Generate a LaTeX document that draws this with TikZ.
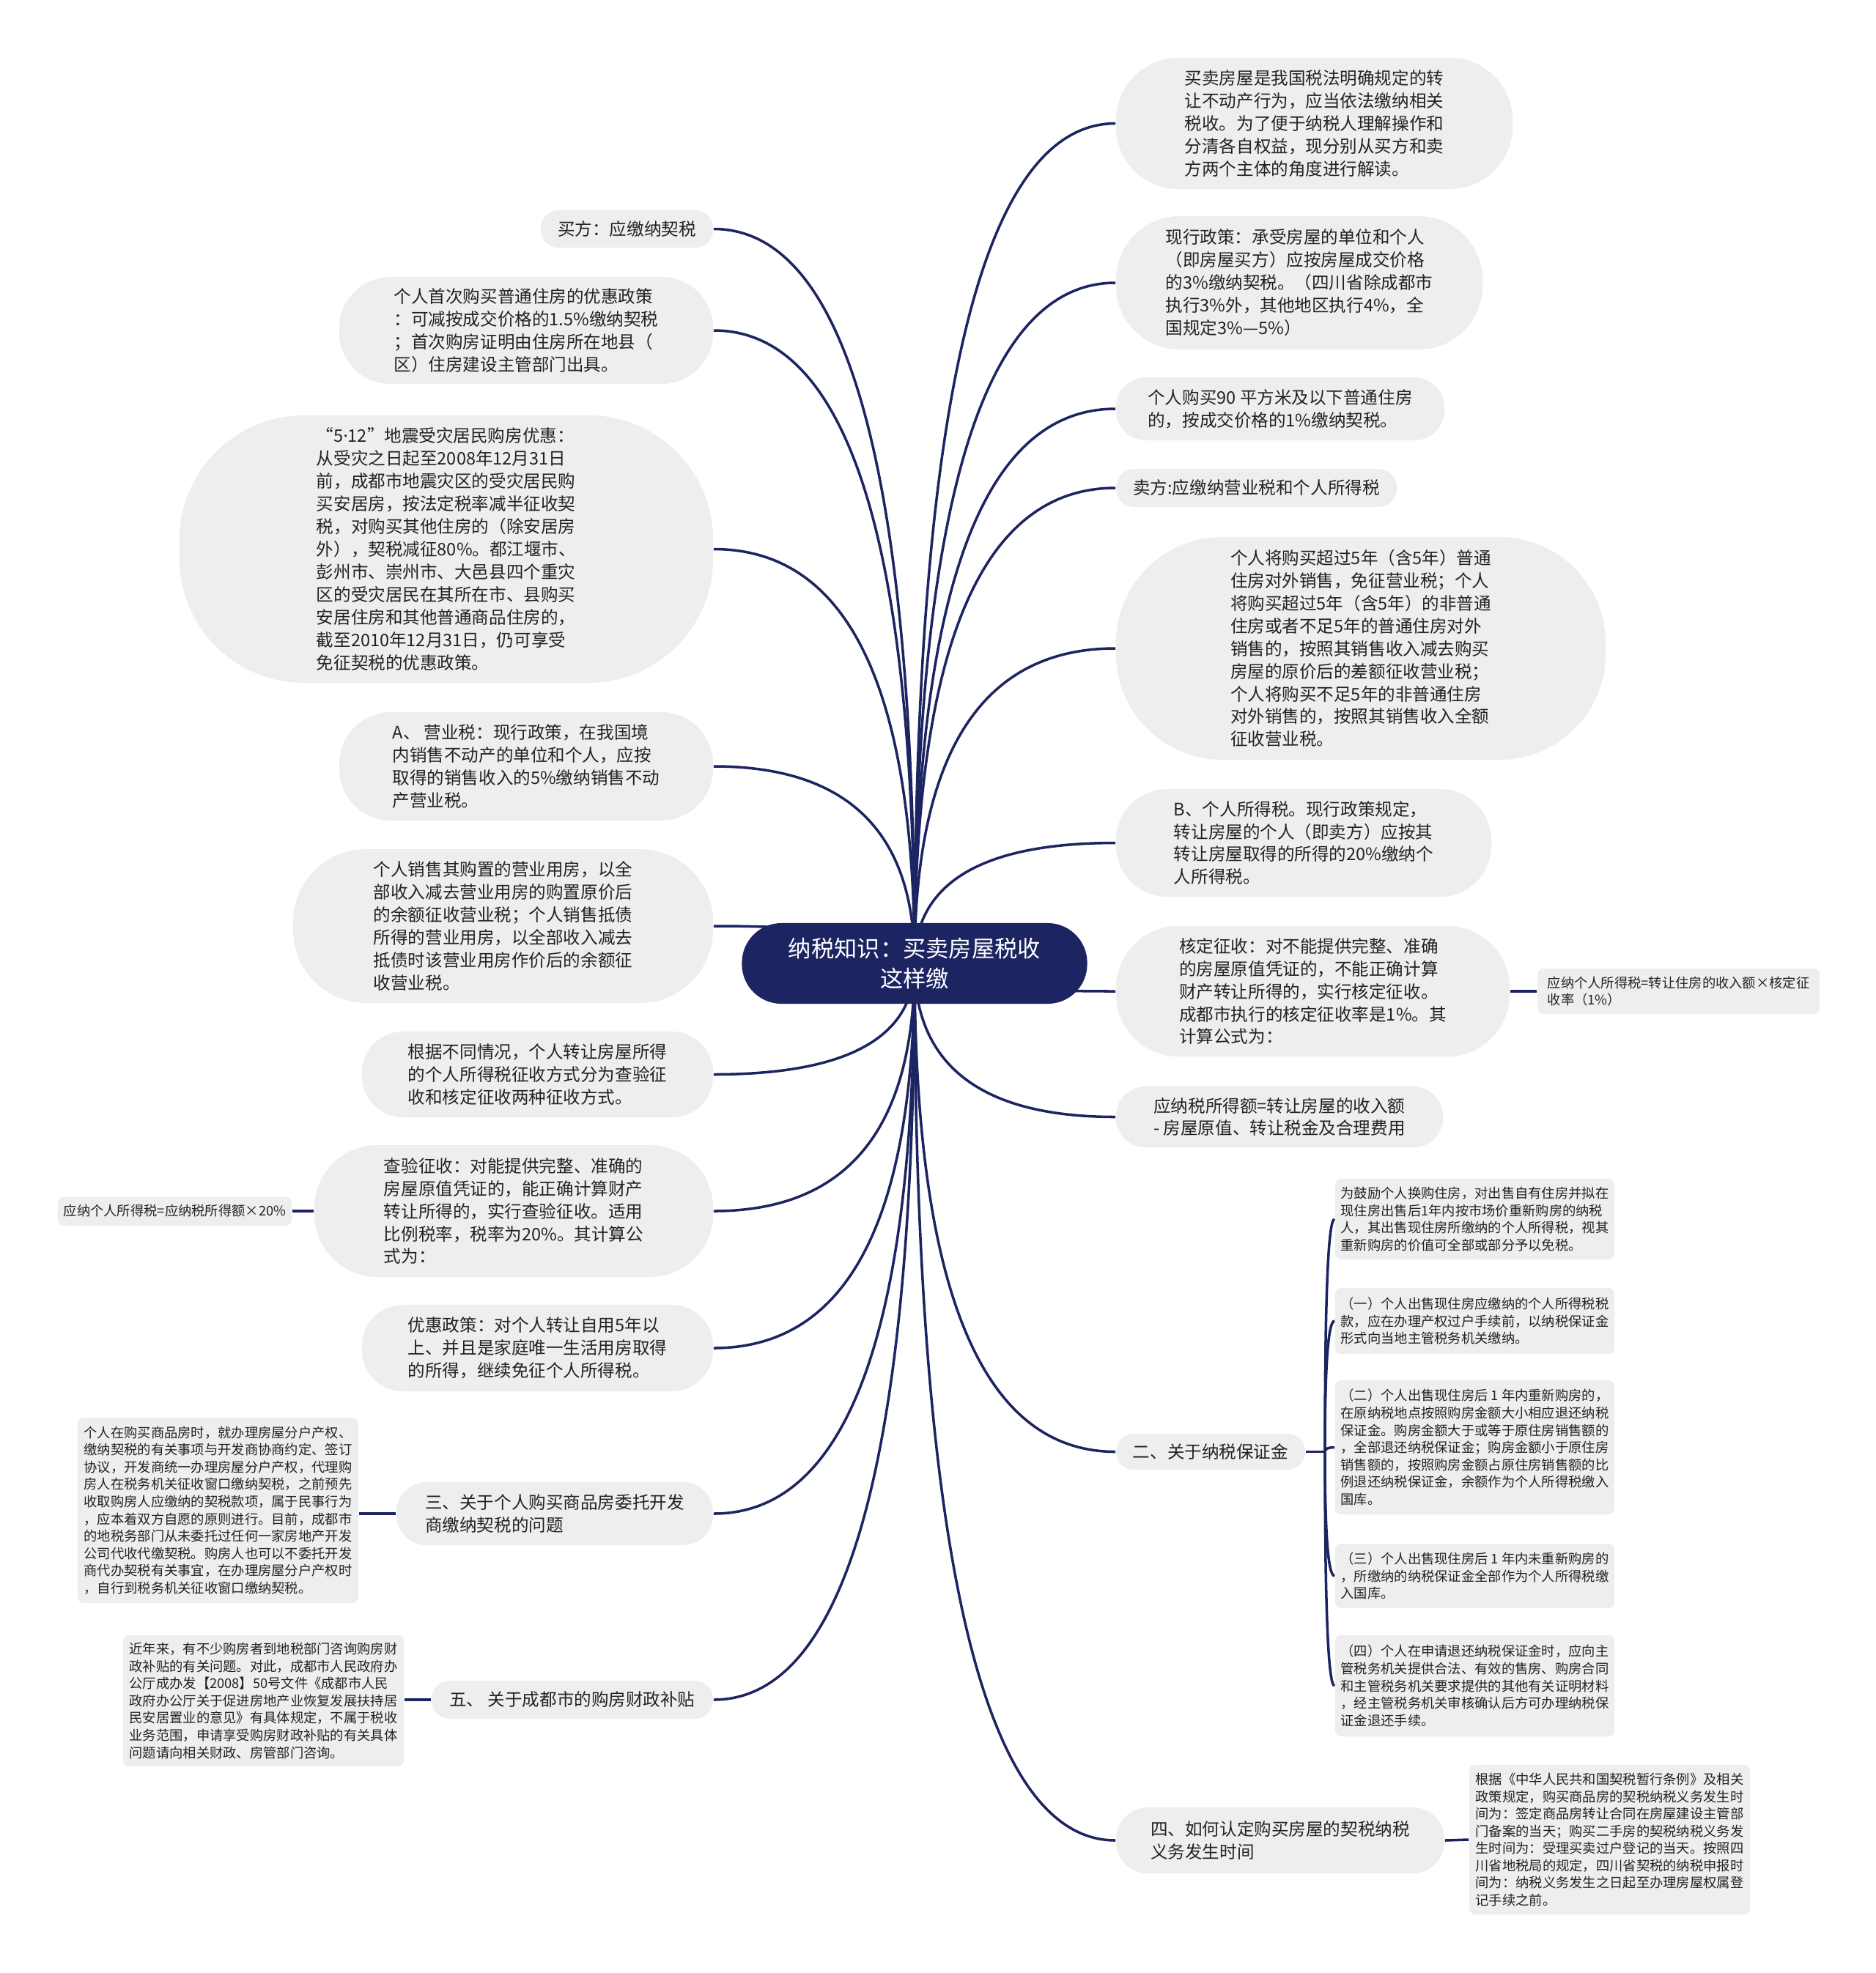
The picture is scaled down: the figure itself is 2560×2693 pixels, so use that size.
\documentclass[tikz,border=0pt]{standalone}
\usepackage{fontspec}
\newfontfamily\cjk{Noto Sans CJK SC}
\newfontfamily\latin{Noto Sans}
\usetikzlibrary{calc, backgrounds}
\definecolor{mapNavy}{HTML}{1C2461}
\definecolor{mapFill}{HTML}{EEEEEE}
\definecolor{mapText}{HTML}{222222}
\tikzset{
  mapfig/.style={
    x=0.01cm, y=-0.01cm,
    every node/.append style={text=mapText},
  },
  rootnode/.style={
    fill=mapNavy, text=white, rounded corners=0.54cm, align=center,
    inner sep=0pt, minimum width=4.71cm, minimum height=1.10cm,
    font=\cjk\fontsize{8.9}{11.7}\selectfont,
  },
  topic/.style={
    fill=mapFill, rounded corners=#1, align=left, inner sep=0pt,
    font=\cjk\fontsize{6.7}{8.8}\selectfont,
  },
  leaf/.style={
    fill=mapFill, rounded corners=0.08cm, align=left, inner sep=0pt,
    font=\cjk\fontsize{5.2}{6.7}\selectfont,
  },
  link/.style={draw=mapNavy, line width=1pt},
  % vertical out of the start, horizontal into the target
  branch/.style={to path={.. controls ($(\tikztostart)!0.667!(\tikztostart |- \tikztotarget)$)
    and ($(\tikztotarget)!0.667!(\tikztostart |- \tikztotarget)$) .. (\tikztotarget)}},
}

\begin{document}
\begin{tikzpicture}[mapfig]
  \useasboundingbox (0,0) rectangle (2560,2693);
  \node[rootnode] (root) at (1248,1315) {纳税知识：买卖房屋税收\\这样缴};

  % right side
  \node[topic=0.85cm, minimum width=5.41cm, minimum height=1.79cm] (R1) at (1793.5,168.5) {买卖房屋是我国税法明确规定的转\\让不动产行为，应当依法缴纳相关\\税收。为了便于纳税人理解操作和\\分清各自权益，现分别从买方和卖\\方两个主体的角度进行解读。};
  \node[topic=0.87cm, minimum width=5.00cm, minimum height=1.82cm] (R2) at (1773,386) {现行政策：承受房屋的单位和个人\\（即房屋买方）应按房屋成交价格\\的3\%缴纳契税。（四川省除成都市\\执行3\%外，其他地区执行4\%，全\\国规定3\%—5\%）};
  \node[topic=0.41cm, minimum width=4.48cm, minimum height=0.86cm] (R3) at (1747,558) {个人购买90 平方米及以下普通住房\\的，按成交价格的1\%缴纳契税。};
  \node[topic=0.25cm, minimum width=3.83cm, minimum height=0.52cm] (R4) at (1714.5,666) {卖方:应缴纳营业税和个人所得税};
  \node[topic=1.45cm, minimum width=6.68cm, minimum height=3.04cm] (R5) at (1857,885) {个人将购买超过5年（含5年）普通\\住房对外销售，免征营业税；个人\\将购买超过5年（含5年）的非普通\\住房或者不足5年的普通住房对外\\销售的，按照其销售收入减去购买\\房屋的原价后的差额征收营业税；\\个人将购买不足5年的非普通住房\\对外销售的，按照其销售收入全额\\征收营业税。};
  \node[topic=0.70cm, minimum width=5.12cm, minimum height=1.47cm] (R6) at (1779,1150.5) {B、个人所得税。现行政策规定，\\转让房屋的个人（即卖方）应按其\\转让房屋取得的所得的20\%缴纳个\\人所得税。};
  \node[topic=0.85cm, minimum width=5.37cm, minimum height=1.78cm] (R7) at (1791.5,1353) {核定征收：对不能提供完整、准确\\的房屋原值凭证的，不能正确计算\\财产转让所得的，实行核定征收。\\成都市执行的核定征收率是1\%。其\\计算公式为：};
  \node[leaf, minimum width=3.85cm, minimum height=0.62cm] (R7c) at (2290.5,1353) {应纳个人所得税=转让住房的收入额×核定征\\收率（1\%）};
  \node[topic=0.40cm, minimum width=4.46cm, minimum height=0.83cm] (R8) at (1746,1524.5) {应纳税所得额=转让房屋的收入额\\- 房屋原值、转让税金及合理费用};
  \node[topic=0.24cm, minimum width=2.58cm, minimum height=0.49cm] (R9) at (1652,1981.5) {二、关于纳税保证金};
  \node[leaf, minimum width=3.81cm, minimum height=1.10cm] (R9a) at (2012.5,1664) {为鼓励个人换购住房，对出售自有住房并拟在\\现住房出售后1年内按市场价重新购房的纳税\\人，其出售现住房所缴纳的个人所得税，视其\\重新购房的价值可全部或部分予以免税。};
  \node[leaf, minimum width=3.81cm, minimum height=0.90cm] (R9b) at (2012.5,1803) {（一）个人出售现住房应缴纳的个人所得税税\\款，应在办理产权过户手续前，以纳税保证金\\形式向当地主管税务机关缴纳。};
  \node[leaf, minimum width=3.81cm, minimum height=1.83cm] (R9c) at (2012.5,1975.5) {（二）个人出售现住房后 1 年内重新购房的，\\在原纳税地点按照购房金额大小相应退还纳税\\保证金。购房金额大于或等于原住房销售额的\\，全部退还纳税保证金；购房金额小于原住房\\销售额的，按照购房金额占原住房销售额的比\\例退还纳税保证金，余额作为个人所得税缴入\\国库。};
  \node[leaf, minimum width=3.81cm, minimum height=0.88cm] (R9d) at (2012.5,2151) {（三）个人出售现住房后 1 年内未重新购房的\\，所缴纳的纳税保证金全部作为个人所得税缴\\入国库。};
  \node[leaf, minimum width=3.81cm, minimum height=1.38cm] (R9e) at (2012.5,2301) {（四）个人在申请退还纳税保证金时，应向主\\管税务机关提供合法、有效的售房、购房合同\\和主管税务机关要求提供的其他有关证明材料\\，经主管税务机关审核确认后方可办理纳税保\\证金退还手续。};
  \node[topic=0.43cm, minimum width=4.48cm, minimum height=0.90cm] (R10) at (1747,2512) {四、如何认定购买房屋的契税纳税\\义务发生时间};
  \node[leaf, minimum width=3.83cm, minimum height=2.04cm] (R10c) at (2196.5,2511) {根据《中华人民共和国契税暂行条例》及相关\\政策规定，购买商品房的契税纳税义务发生时\\间为：签定商品房转让合同在房屋建设主管部\\门备案的当天；购买二手房的契税纳税义务发\\生时间为：受理买卖过户登记的当天。按照四\\川省地税局的规定，四川省契税的纳税申报时\\间为：纳税义务发生之日起至办理房屋权属登\\记手续之前。};

  % left side
  \node[topic=0.24cm, minimum width=2.35cm, minimum height=0.51cm] (L1) at (855.5,312.5) {买方：应缴纳契税};
  \node[topic=0.70cm, minimum width=5.10cm, minimum height=1.46cm] (L2) at (718,451) {个人首次购买普通住房的优惠政策\\：可减按成交价格的1.5\%缴纳契税\\；首次购房证明由住房所在地县（\\区）住房建设主管部门出具。};
  \node[topic=1.70cm, minimum width=7.28cm, minimum height=3.65cm] (L3) at (609,749.5) {“5{\latin ·}12”地震受灾居民购房优惠：\\从受灾之日起至2008年12月31日\\前，成都市地震灾区的受灾居民购\\买安居房，按法定税率减半征收契\\税，对购买其他住房的（除安居房\\外），契税减征80\%。都江堰市、\\彭州市、崇州市、大邑县四个重灾\\区的受灾居民在其所在市、县购买\\安居住房和其他普通商品住房的，\\截至2010年12月31日，仍可享受\\免征契税的优惠政策。};
  \node[topic=0.71cm, minimum width=5.10cm, minimum height=1.48cm] (L4) at (718,1046) {A、 营业税：现行政策，在我国境\\内销售不动产的单位和个人，应按\\取得的销售收入的5\%缴纳销售不动\\产营业税。};
  \node[topic=1.00cm, minimum width=5.73cm, minimum height=2.10cm] (L5) at (686.5,1264) {个人销售其购置的营业用房，以全\\部收入减去营业用房的购置原价后\\的余额征收营业税；个人销售抵债\\所得的营业用房，以全部收入减去\\抵债时该营业用房作价后的余额征\\收营业税。};
  \node[topic=0.56cm, minimum width=4.79cm, minimum height=1.17cm] (L6) at (733.5,1466.5) {根据不同情况，个人转让房屋所得\\的个人所得税征收方式分为查验征\\收和核定征收两种征收方式。};
  \node[topic=0.86cm, minimum width=5.44cm, minimum height=1.80cm] (L7) at (701,1653) {查验征收：对能提供完整、准确的\\房屋原值凭证的，能正确计算财产\\转让所得的，实行查验征收。适用\\比例税率，税率为20\%。其计算公\\式为：};
  \node[leaf, minimum width=3.19cm, minimum height=0.39cm] (L7c) at (238.5,1653) {应纳个人所得税=应纳税所得额×20\%};
  \node[topic=0.56cm, minimum width=4.79cm, minimum height=1.18cm] (L8) at (733.5,1840) {优惠政策：对个人转让自用5年以\\上、并且是家庭唯一生活用房取得\\的所得，继续免征个人所得税。};
  \node[topic=0.41cm, minimum width=4.32cm, minimum height=0.86cm] (L9) at (757,2066) {三、关于个人购买商品房委托开发\\商缴纳契税的问题};
  \node[leaf, minimum width=3.83cm, minimum height=2.53cm] (L9c) at (297.5,2061.5) {个人在购买商品房时，就办理房屋分户产权、\\缴纳契税的有关事项与开发商协商约定、签订\\协议，开发商统一办理房屋分户产权，代理购\\房人在税务机关征收窗口缴纳契税，之前预先\\收取购房人应缴纳的契税款项，属于民事行为\\，应本着双方自愿的原则进行。目前，成都市\\的地税务部门从未委托过任何一家房地产开发\\公司代收代缴契税。购房人也可以不委托开发\\商代办契税有关事宜，在办理房屋分户产权时\\，自行到税务机关征收窗口缴纳契税。};
  \node[topic=0.25cm, minimum width=3.84cm, minimum height=0.52cm] (L10) at (781,2320) {五、 关于成都市的购房财政补贴};
  \node[leaf, minimum width=3.83cm, minimum height=1.79cm] (L10c) at (359.5,2321.5) {近年来，有不少购房者到地税部门咨询购房财\\政补贴的有关问题。对此，成都市人民政府办\\公厅成办发【2008】50号文件《成都市人民\\政府办公厅关于促进房地产业恢复发展扶持居\\民安居置业的意见》有具体规定，不属于税收\\业务范围，申请享受购房财政补贴的有关具体\\问题请向相关财政、房管部门咨询。};

  \coordinate (R9j) at (1808,1981.5);

  \begin{scope}[on background layer]
    \draw[link] (root.center) to[branch] (R1.west);
    \draw[link] (root.center) to[branch] (R2.west);
    \draw[link] (root.center) to[branch] (R3.west);
    \draw[link] (root.center) to[branch] (R4.west);
    \draw[link] (root.center) to[branch] (R5.west);
    \draw[link] (root.center) to[branch] (R6.west);
    \draw[link] (root.center) to[branch] (R7.west);
    \draw[link] (root.center) to[branch] (R8.west);
    \draw[link] (root.center) to[branch] (R9.west);
    \draw[link] (root.center) to[branch] (R10.west);
    \draw[link] (root.center) to[branch] (L1.east);
    \draw[link] (root.center) to[branch] (L2.east);
    \draw[link] (root.center) to[branch] (L3.east);
    \draw[link] (root.center) to[branch] (L4.east);
    \draw[link] (root.center) to[branch] (L5.east);
    \draw[link] (root.center) to[branch] (L6.east);
    \draw[link] (root.center) to[branch] (L7.east);
    \draw[link] (root.center) to[branch] (L8.east);
    \draw[link] (root.center) to[branch] (L9.east);
    \draw[link] (root.center) to[branch] (L10.east);
    % leaves
    \draw[link] (R7.east) -- (R7c.west);
    \draw[link] (R10.east) -- (R10c.west);
    \draw[link] (L7.west) -- (L7c.east);
    \draw[link] (L9.west) -- (L9c.east |- L9.west);
    \draw[link] (L10.west) -- (L10c.east |- L10.west);
    \draw[link] (R9.east) -- (R9j);
    \draw[link] (R9j) to[branch] (R9a.west);
    \draw[link] (R9j) to[branch] (R9b.west);
    \draw[link] (R9j) to[branch] (R9c.west);
    \draw[link] (R9j) to[branch] (R9d.west);
    \draw[link] (R9j) to[branch] (R9e.west);
  \end{scope}
\end{tikzpicture}
\end{document}
